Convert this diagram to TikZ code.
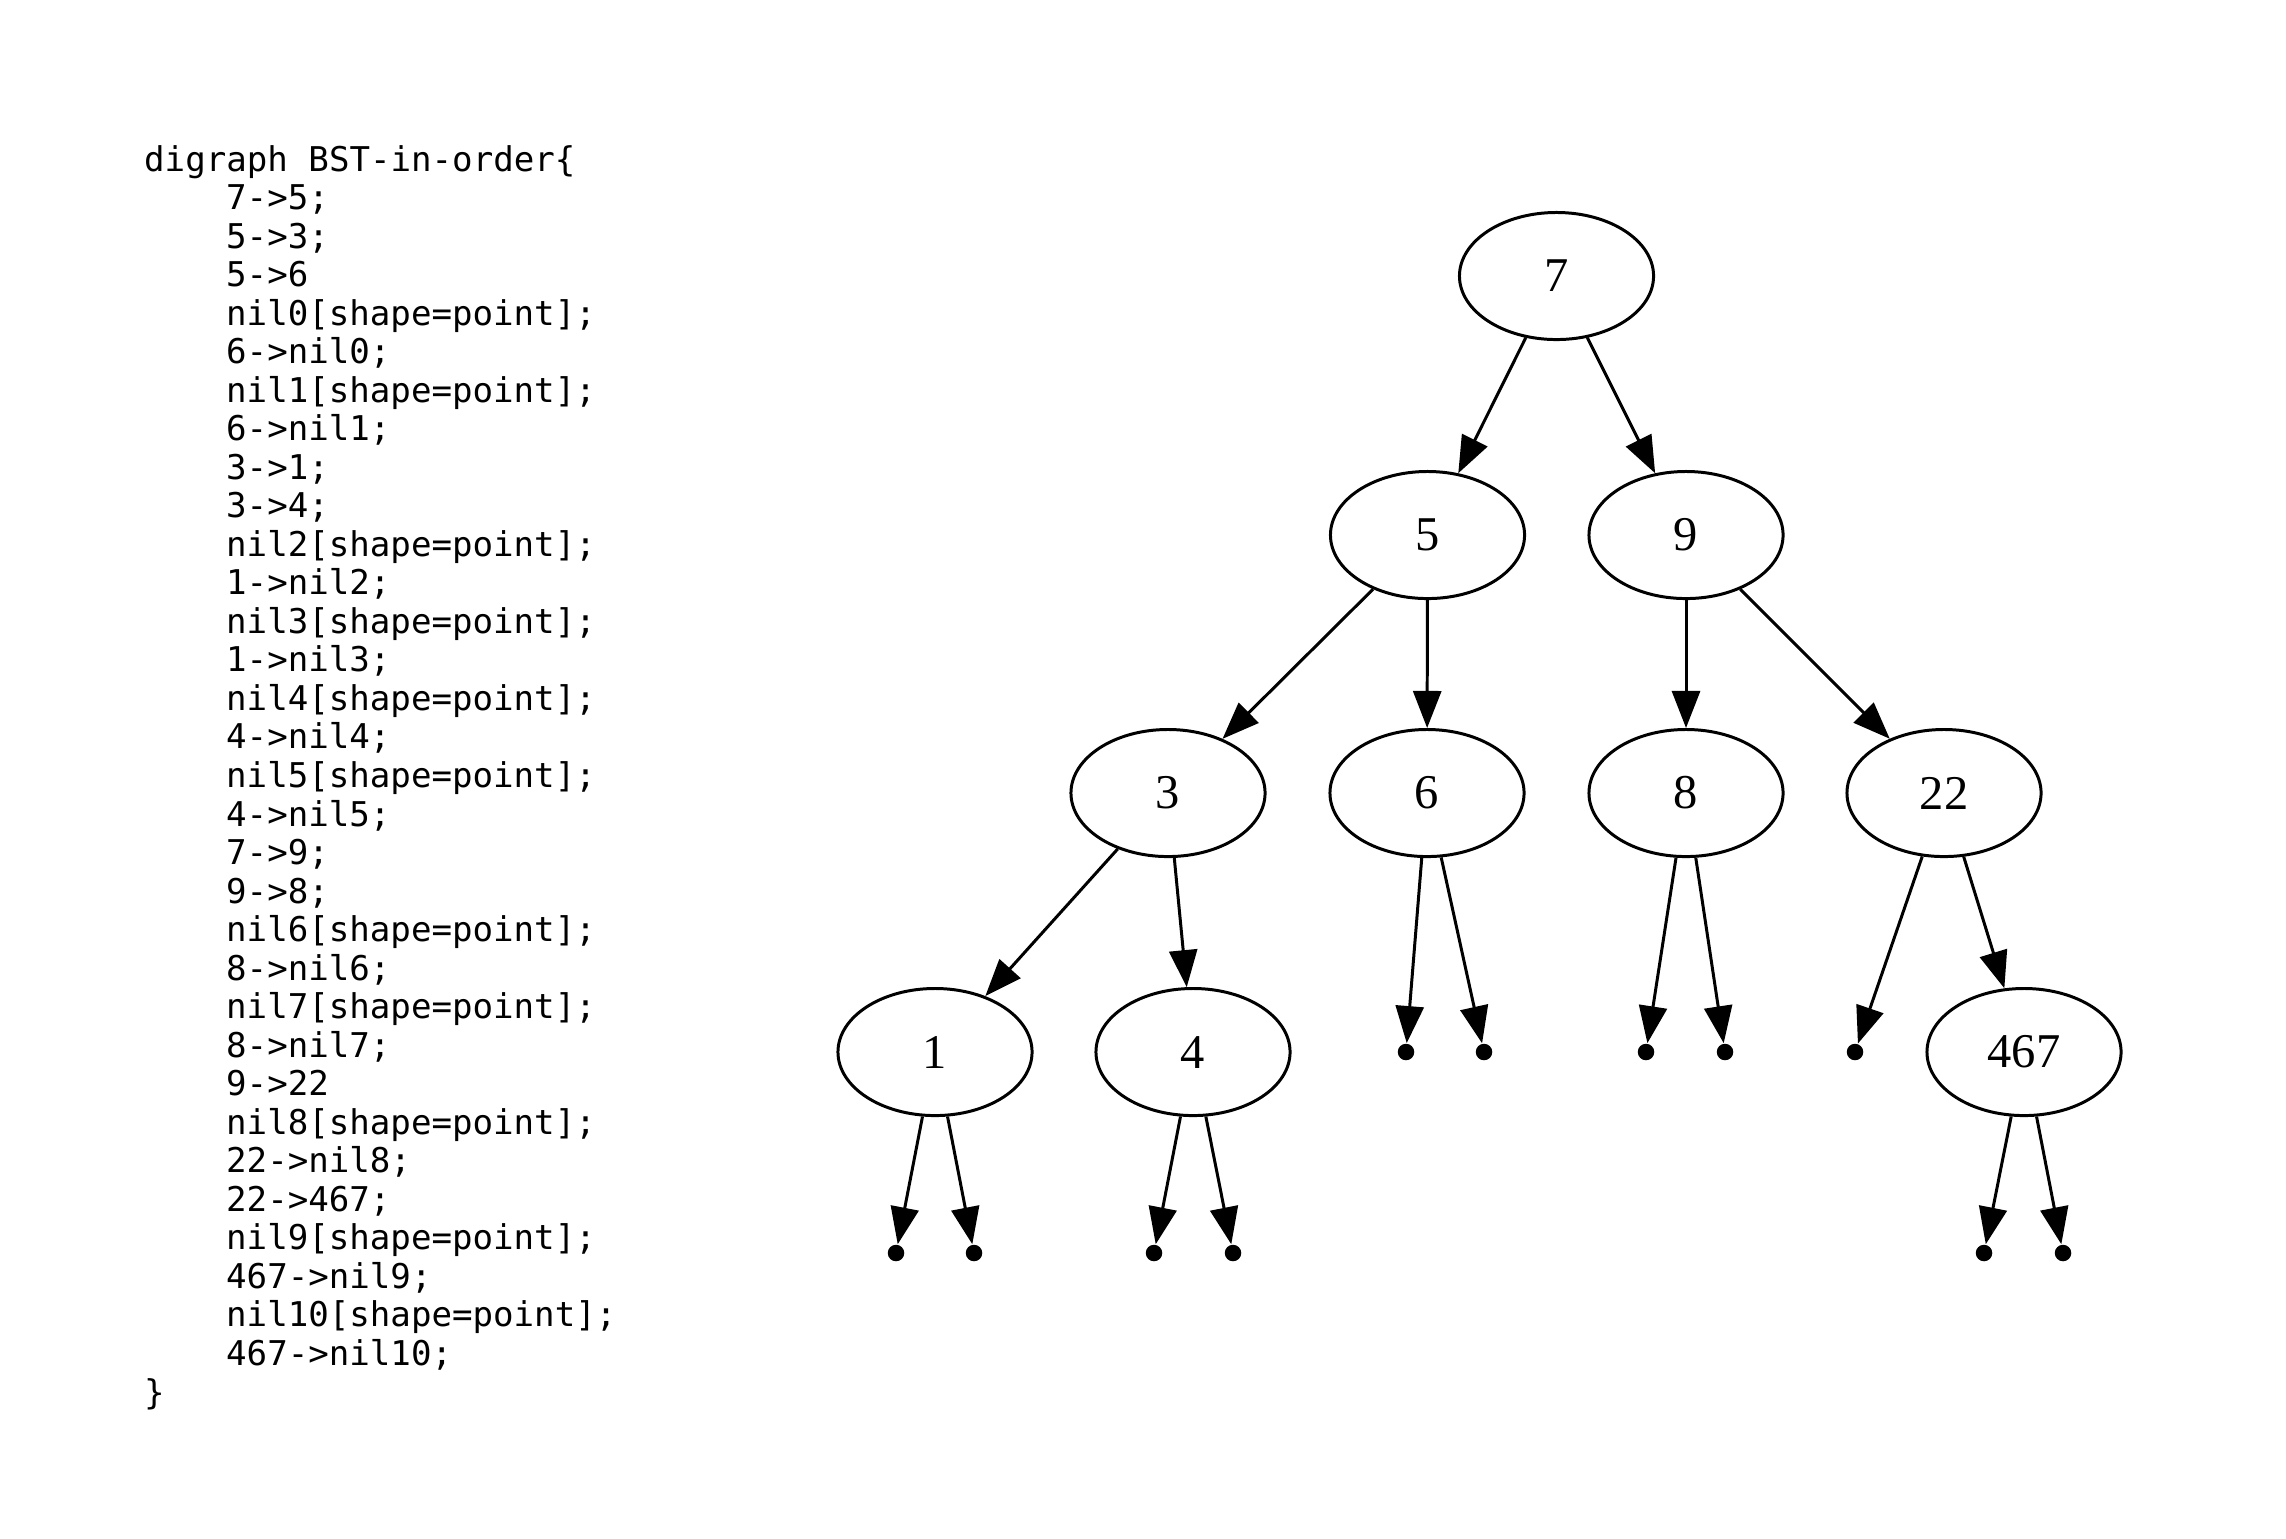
\documentclass[tikz,border=0pt]{standalone}
\usepackage{fontspec}
\setmainfont{Liberation Serif}
\setmonofont{DejaVu Sans Mono}
\usetikzlibrary{arrows.meta,shapes.geometric}

\begin{document}
\begin{tikzpicture}[x=0.01cm,y=-0.01cm,
  vert/.style={draw, ellipse, line width=0.85pt, minimum width=1.94cm, minimum height=1.27cm, inner sep=0pt, font=\fontsize{13.8}{16}\selectfont},
  nilpt/.style={circle, fill, inner sep=0pt, minimum size=0.165cm},
  edge/.style={line width=0.85pt, -{Triangle[length=0.37cm,width=0.28cm]}},
  codeline/.style={anchor=base west, inner sep=0pt, font=\ttfamily\fontsize{9.7}{11}\selectfont}]
\useasboundingbox (0,0) rectangle (2286,1538);

% code listing
\node[codeline] (code1) at (143.5,171) {digraph BST-in-order\{};
\foreach \cl [count=\i from 2] in {
  {7->5;},{5->3;},{5->6},{nil0[shape=point];},{6->nil0;},{nil1[shape=point];},{6->nil1;},
  {3->1;},{3->4;},{nil2[shape=point];},{1->nil2;},{nil3[shape=point];},{1->nil3;},
  {nil4[shape=point];},{4->nil4;},{nil5[shape=point];},{4->nil5;},{7->9;},{9->8;},
  {nil6[shape=point];},{8->nil6;},{nil7[shape=point];},{8->nil7;},{9->22},
  {nil8[shape=point];},{22->nil8;},{22->467;},{nil9[shape=point];},{467->nil9;},
  {nil10[shape=point];},{467->nil10;}}
  \node[codeline] (code\i) at (225.5,{171+(\i-1)*38.53}) {\cl};
\node[codeline] (code33) at (143.5,{171+32*38.53}) {\}};

% tree nodes
\node[vert] (n7) at (1556.5,276) {7};
\node[vert] (n5) at (1427.5,535) {5};
\node[vert] (n9) at (1686,535) {9};
\node[vert] (n3) at (1168,793) {3};
\node[vert] (n6) at (1427,793) {6};
\node[vert] (n8) at (1686,793) {8};
\node[vert] (n22) at (1944,793) {22};
\node[vert] (n1) at (935,1052) {1};
\node[vert] (n4) at (1193,1052) {4};
\node[vert] (n467) at (2024,1052) {467};

\node[nilpt] (nil0) at (1406,1052) {};
\node[nilpt] (nil1) at (1484,1052) {};
\node[nilpt] (nil6) at (1646,1052) {};
\node[nilpt] (nil7) at (1725,1052) {};
\node[nilpt] (nil8) at (1855,1052) {};
\node[nilpt] (nil2) at (896,1253) {};
\node[nilpt] (nil3) at (974,1253) {};
\node[nilpt] (nil4) at (1154,1253) {};
\node[nilpt] (nil5) at (1233,1253) {};
\node[nilpt] (nil9) at (1984,1253) {};
\node[nilpt] (nil10) at (2063,1253) {};

% edges
\draw[edge] (n7) -- (n5);
\draw[edge] (n7) -- (n9);
\draw[edge] (n5) -- (n3);
\draw[edge] (n5) -- (n6);
\draw[edge] (n9) -- (n8);
\draw[edge] (n9) -- (n22);
\draw[edge] (n3) -- (n1);
\draw[edge] (n3) -- (n4);
\draw[edge] (n6) -- (nil0);
\draw[edge] (n6) -- (nil1);
\draw[edge] (n8) -- (nil6);
\draw[edge] (n8) -- (nil7);
\draw[edge] (n22) -- (nil8);
\draw[edge] (n22) -- (n467);
\draw[edge] (n1) -- (nil2);
\draw[edge] (n1) -- (nil3);
\draw[edge] (n4) -- (nil4);
\draw[edge] (n4) -- (nil5);
\draw[edge] (n467) -- (nil9);
\draw[edge] (n467) -- (nil10);
\end{tikzpicture}
\end{document}
